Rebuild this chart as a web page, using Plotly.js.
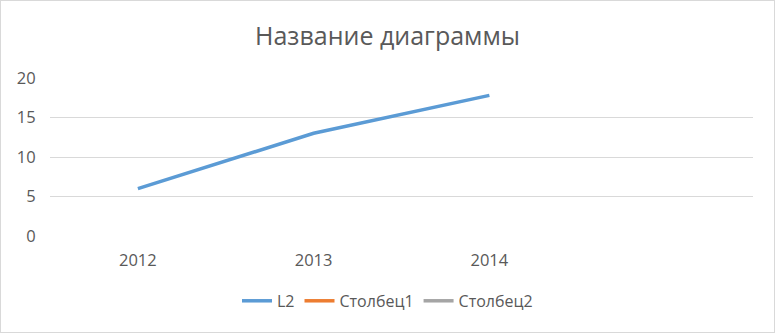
<!DOCTYPE html>
<html><head><meta charset="utf-8">
<script src="https://cdn.plot.ly/plotly-3.0.1.min.js"></script>
<style>
html,body{margin:0;padding:0;background:#fff;}
#chart{width:773px;height:331px;border:1px solid #d9d9d9;}
</style></head>
<body><div id="chart"></div>
<script>
const categories = ['2012','2013','2014'];
const l2Values = [6, 13, 17.8];
const col1Values = [null, null, null];
const col2Values = [null, null, null];
const seriesNames = ['L2','Столбец1','Столбец2'];
const titleText = 'Название диаграммы';
const yTicks = [0,5,10,15,20];

const font = 'Open Sans, Liberation Sans, sans-serif';
const traces = [
  {x: categories, y: l2Values, name: seriesNames[0], type:'scatter', mode:'lines',
   line:{color:'#5B9BD5', width:3.5}},
  {x: categories, y: col1Values, name: seriesNames[1], type:'scatter', mode:'lines',
   line:{color:'#ED7D31', width:3.5}},
  {x: categories, y: col2Values, name: seriesNames[2], type:'scatter', mode:'lines',
   line:{color:'#A5A5A5', width:3.5}}
];
const layout = {
  width:773, height:331,
  paper_bgcolor:'#fff', plot_bgcolor:'#fff',
  margin:{l:49, r:21, t:77, b:96},
  font:{family:font, color:'#595959', size:16},
  title:{text:titleText, x:0.5, xanchor:'center', y:0.895, yanchor:'middle',
         font:{family:font, size:25, color:'#595959'}},
  xaxis:{type:'category', categoryorder:'array', categoryarray:categories,
         range:[-0.5, 3.5], showgrid:false, showline:false, zeroline:false,
         ticks:'outside', ticklen:9, tickcolor:'rgba(0,0,0,0)',
         tickfont:{size:16.5, color:'#595959'}},
  yaxis:{range:[0,20], tickvals:yTicks, showgrid:true, gridcolor:'#d9d9d9', gridwidth:1,
         zeroline:false, showline:false, ticks:'outside', ticklen:10, tickcolor:'rgba(0,0,0,0)',
         tickfont:{size:16.5, color:'#595959'}},
  showlegend:true,
  legend:{orientation:'h', x:0.5, xanchor:'center', xref:'container',
          y:0.094, yanchor:'middle', yref:'container',
          font:{size:16, color:'#595959'}, itemwidth:30, tracegroupgap:0}
};
Plotly.newPlot('chart', traces, layout, {displayModeBar:false, staticPlot:true});
</script></body></html>
